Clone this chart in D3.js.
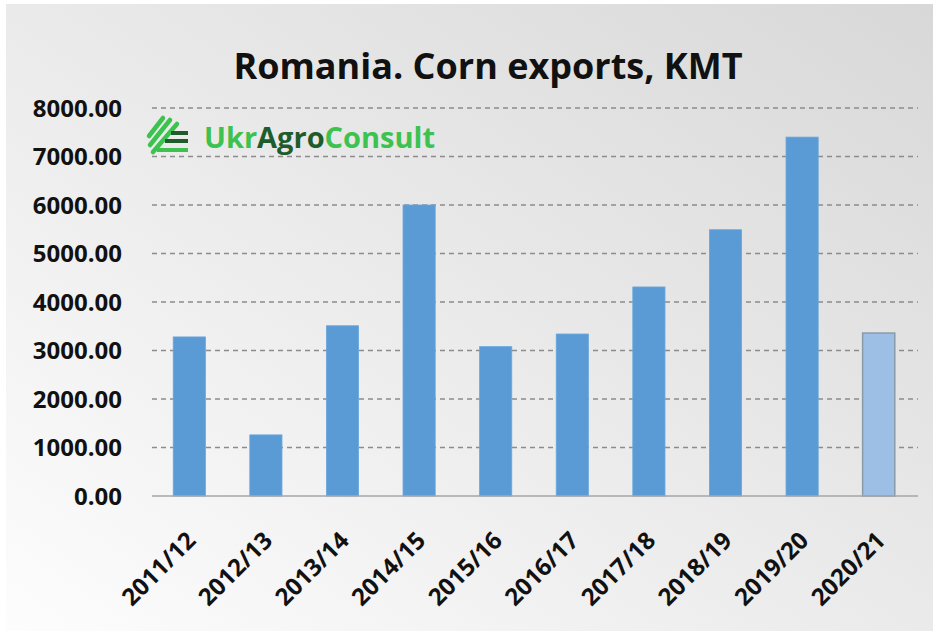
<!DOCTYPE html>
<html><head><meta charset="utf-8">
<script src="https://cdn.jsdelivr.net/npm/d3@7"></script>
<style>html,body{margin:0;padding:0;background:#fff;}svg{display:block;}</style>
</head><body>
<svg id="chart" width="933" height="631"></svg>
<script>
const categories = ["2011/12","2012/13","2013/14","2014/15","2015/16","2016/17","2017/18","2018/19","2019/20","2020/21"];
const exportsKMT = [3280, 1260, 3510, 6000, 3080, 3340, 4310, 5490, 7400, 3360];
const forecastFlags = [false,false,false,false,false,false,false,false,false,true];
const yTicks = [0,1000,2000,3000,4000,5000,6000,7000,8000];
const titleText = "Romania. Corn exports, KMT";

const svg = d3.select("#chart");
const W = 933, H = 631;
const defs = svg.append("defs");
const grad = defs.append("linearGradient").attr("id","bg")
  .attr("x1","0%").attr("y1","100%").attr("x2","100%").attr("y2","0%");
grad.append("stop").attr("offset","0%").attr("stop-color","#fdfdfd");
grad.append("stop").attr("offset","45%").attr("stop-color","#ececec");
grad.append("stop").attr("offset","100%").attr("stop-color","#d8d8d8");
svg.append("rect").attr("x",6).attr("y",4).attr("width",W-6).attr("height",H-4).attr("fill","url(#bg)");

const x = d3.scaleBand().domain(categories).range([151, 917]).paddingInner(0.58).paddingOuter(0.29);
const y = d3.scaleLinear().domain([0,8000]).range([496,108]);

// gridlines
svg.append("g").selectAll("line").data(yTicks.filter(d=>d>0)).join("line")
  .attr("x1",152).attr("x2",918).attr("y1",d=>y(d)).attr("y2",d=>y(d))
  .attr("stroke","#8c8c8c").attr("stroke-width",1.3).attr("stroke-dasharray","5,4");

// logo
const dg = "#1f5c2c", lg = "#3cc24e";
const logo = svg.append("g");
[[[149,136],[163,118]],[[150,145],[170,120]],[[153,152],[177,124]]].forEach(p=>{
  logo.append("line").attr("x1",p[0][0]).attr("y1",p[0][1]).attr("x2",p[1][0]).attr("y2",p[1][1])
    .attr("stroke",lg).attr("stroke-width",4.5).attr("stroke-linecap","round");
});
logo.append("line").attr("x1",171).attr("y1",133).attr("x2",188).attr("y2",133).attr("stroke",dg).attr("stroke-width",4);
logo.append("line").attr("x1",165).attr("y1",141).attr("x2",188).attr("y2",141).attr("stroke",dg).attr("stroke-width",4);
logo.append("line").attr("x1",157).attr("y1",150).attr("x2",188).attr("y2",150).attr("stroke",lg).attr("stroke-width",4);
const lt = svg.append("text").attr("x",204).attr("y",148)
  .style("font-family","'Open Sans', sans-serif").style("font-weight","bold").style("font-size","29px");
lt.append("tspan").attr("fill",lg).text("Ukr");
lt.append("tspan").attr("fill",dg).text("Agro");
lt.append("tspan").attr("fill",lg).text("Consult");

// bars
svg.append("g").selectAll("rect").data(categories).join("rect")
  .attr("x",d=>x(d)).attr("width",x.bandwidth())
  .attr("y",(d,i)=>y(exportsKMT[i])).attr("height",(d,i)=>y(0)-y(exportsKMT[i]))
  .attr("fill",(d,i)=>forecastFlags[i]?"#9dbfe6":"#5b9bd5")
  .attr("stroke",(d,i)=>forecastFlags[i]?"#8a9aab":"#6aa6dd")
  .attr("stroke-width",(d,i)=>forecastFlags[i]?1.5:0.8);

// baseline
svg.append("line").attr("x1",152).attr("x2",918).attr("y1",y(0)).attr("y2",y(0))
  .attr("stroke","#a6a6a6").attr("stroke-width",1.5);

// y axis labels
const yAxis = d3.axisLeft(y).tickValues(yTicks).tickFormat(d3.format(".2f")).tickSize(0).tickPadding(0);
const ya = svg.append("g").attr("transform","translate(122,0)").call(yAxis);
ya.select(".domain").remove();
ya.selectAll("text").style("font-family","'Open Sans', sans-serif").style("font-weight","bold")
  .style("font-size","24px").attr("fill","#111").attr("dy","0.35em");

// x axis labels
const xAxis = d3.axisBottom(x).tickSize(0).tickPadding(0);
const xa = svg.append("g").call(xAxis);
xa.select(".domain").remove();
xa.selectAll(".tick").attr("transform",d=>`translate(${x(d)+x.bandwidth()/2+2},536)`);
xa.selectAll("text").attr("y",0).attr("dy","0.35em").attr("transform","rotate(-45)")
  .style("text-anchor","end").style("font-family","'Open Sans', sans-serif").style("font-weight","bold")
  .style("font-size","24px").attr("fill","#111");

// title
svg.append("text").attr("x",488).attr("y",79).attr("text-anchor","middle")
  .style("font-family","'Open Sans', sans-serif").style("font-weight","bold").style("font-size","36px")
  .attr("fill","#111").text(titleText);
</script>
</body></html>
